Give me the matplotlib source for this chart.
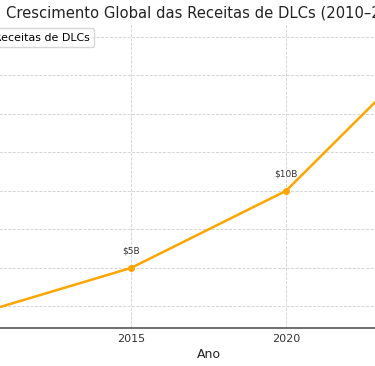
import matplotlib
matplotlib.use("Agg")
import matplotlib.pyplot as plt

years = [2010, 2015, 2020, 2025]
revenue = [2, 5, 10, 20]
labels = ["$2B", "$5B", "$10B", "$20B"]
xticks = [2010, 2015, 2020, 2025]

fig = plt.figure(figsize=(3.75, 3.66), dpi=100)
ax = fig.add_axes([-47/375, 38/366, 511/375, 305/366])

ax.plot(years, revenue, color="#FFA500", linewidth=1.8, marker="o", markersize=4,
        label="Receitas de DLCs")
for x, y, t in zip(years, revenue, labels):
    ax.annotate(t, (x, y), xytext=(0, 9), textcoords="offset points",
                ha="center", va="bottom", fontsize=6.5, color="#333333")

ax.set_xticks(xticks)
ax.set_yticks([2.5, 5, 7.5, 10, 12.5, 15, 17.5, 20])
ax.tick_params(axis="x", labelsize=8, length=0, pad=4, colors="#333333")
ax.tick_params(axis="y", left=False, labelleft=False)
ax.grid(True, linestyle="--", linewidth=0.6, color="#d0d0d0")
for s in ["top", "right", "left"]:
    ax.spines[s].set_visible(False)
ax.spines["bottom"].set_color("#555555")
ax.spines["bottom"].set_linewidth(1.2)
ax.set_xlabel("Ano", fontsize=9, color="#222222", labelpad=3)
ax.set_title("Crescimento Global das Receitas de DLCs (2010–2025)", fontsize=10.6,
             color="#222222", pad=4, x=0.503)
ax.legend(loc="upper left", fontsize=7.9)

fig.savefig("out.png", dpi=100)
